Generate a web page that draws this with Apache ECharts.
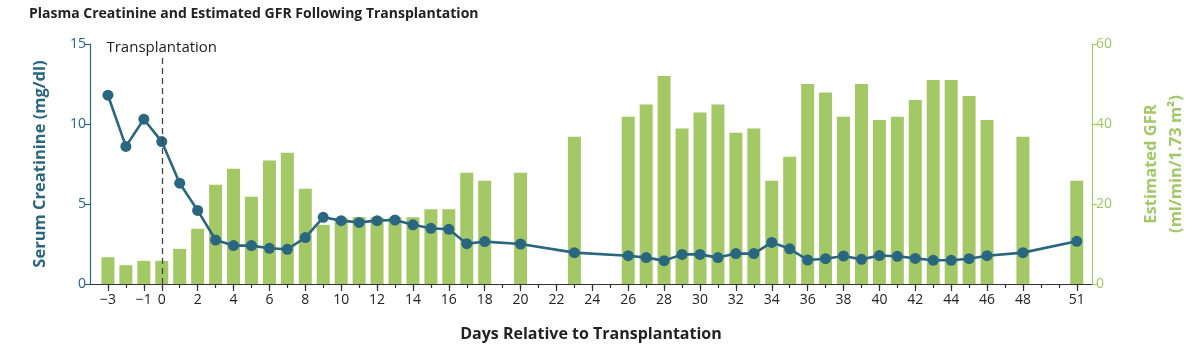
<!DOCTYPE html>
<html>
<head>
<meta charset="utf-8">
<script src="https://cdn.jsdelivr.net/npm/echarts@6/dist/echarts.min.js"></script>
<style>
	html, body {margin: 0; padding: 0; background: #fff;}
	#chart {width: 1200px; height: 353px;}
</style>
</head>
<body>
<div id="chart"></div>
<script>
// 移植后的血肌酐和估算GFR
let days = [-3, -2, -1, 0, 1, 2, 3, 4, 5, 6, 7, 8, 9, 10, 11, 12, 13, 14, 15, 16, 17, 18, 20, 23,
	26, 27, 28, 29, 30, 31, 32, 33, 34, 35, 36, 37, 38, 39, 40, 41, 42, 43, 44, 45, 46, 48, 51]
let gfr = [6.7, 4.7, 5.8, 5.8, 8.8, 13.8, 24.8, 28.8, 21.8, 30.9, 32.8, 23.8, 14.8, 16.5, 16.7, 16.7, 16.7, 16.7, 18.7, 18.7, 27.8, 25.8, 27.8, 36.8,
	41.8, 44.9, 52, 38.9, 42.9, 44.9, 37.8, 38.9, 25.8, 31.8, 50, 47.9, 41.8, 50, 41, 41.8, 46, 51, 51, 47, 41, 36.8, 25.8]
let creatinine = [11.8, 8.6, 10.3, 8.9, 6.3, 4.6, 2.75, 2.4, 2.4, 2.23, 2.17, 2.9, 4.17, 3.96, 3.85, 3.96, 4.0, 3.7, 3.48, 3.42, 2.52, 2.65, 2.5, 1.96,
	1.77, 1.65, 1.46, 1.85, 1.85, 1.65, 1.9, 1.9, 2.6, 2.2, 1.5, 1.58, 1.75, 1.54, 1.78, 1.73, 1.6, 1.48, 1.48, 1.58, 1.77, 1.96, 2.67]
let dayLabels = [-3, -1, 0, 2, 4, 6, 8, 10, 12, 14, 16, 18, 20, 22, 24, 26, 28, 30, 32, 34, 36, 38, 40, 42, 44, 46, 48, 51]
let allTicks = []
for (let d = -3; d <= 51; d++) {
	allTicks.push(d)
}

let font = "'Open Sans', sans-serif"
let teal = "#2b6681"
let green = "#a3c865"

let chart = echarts.init(document.getElementById("chart"))
chart.setOption({
	animation: false,
	textStyle: {fontFamily: font},
	title: {
		text: "Plasma Creatinine and Estimated GFR Following Transplantation",
		left: 24,
		top: 2,
		textStyle: {fontFamily: font, fontSize: 14, fontWeight: "bold", color: "#222"}
	},
	grid: {left: 90, right: 108, top: 44, bottom: 69},
	xAxis: [
		{
			type: "value",
			min: -4,
			max: 51.85,
			name: "Days Relative to Transplantation",
			nameLocation: "middle",
			nameGap: 42,
			nameTextStyle: {fontFamily: font, fontSize: 16, fontWeight: "bold", color: "#222"},
			splitLine: {show: false},
			axisLine: {lineStyle: {color: "#333", width: 1.2}},
			axisTick: {customValues: allTicks, length: 4, lineStyle: {color: "#333", width: 1.2}},
			axisLabel: {customValues: dayLabels, color: "#222", fontSize: 14, margin: 9,
				formatter: function (v) {
					return v < 0 ? "\u2212" + Math.abs(v) : String(v)
				}
			}
		},
		{
			type: "value",
			min: -4,
			max: 51.85,
			position: "bottom",
			splitLine: {show: false},
			axisLine: {show: false},
			axisTick: {customValues: dayLabels, length: 7, lineStyle: {color: "#333", width: 1.2}},
			axisLabel: {show: false}
		}
	],
	yAxis: [
		{
			type: "value",
			min: 0,
			max: 15,
			interval: 5,
			position: "left",
			name: "Serum Creatinine (mg/dl)",
			nameLocation: "middle",
			nameGap: 41,
			nameTextStyle: {fontFamily: font, fontSize: 16.5, fontWeight: "bold", color: teal},
			splitLine: {show: false},
			axisLine: {show: true, onZero: false, lineStyle: {color: teal, width: 1.2}},
			axisTick: {show: true, length: 5, lineStyle: {color: teal, width: 1.2}},
			axisLabel: {color: teal, fontSize: 14, margin: 4}
		},
		{
			type: "value",
			min: 0,
			max: 60,
			interval: 20,
			position: "right",
			name: "Estimated GFR\n(ml/min/1.73 m\u00b2)",
			nameLocation: "middle",
			nameGap: 47,
			nameTextStyle: {fontFamily: font, fontSize: 16.5, fontWeight: "bold", color: green, lineHeight: 25},
			splitLine: {show: false},
			axisLine: {show: true, onZero: false, lineStyle: {color: green, width: 1.2}},
			axisTick: {show: true, length: 5, lineStyle: {color: green, width: 1.2}},
			axisLabel: {color: green, fontSize: 14, margin: 4}
		}
	],
	series: [
		{
			name: "marker",
			type: "line",
			yAxisIndex: 0,
			data: [],
			z: 1,
			markLine: {
				silent: true,
				symbol: "none",
				lineStyle: {color: "#444", type: [6, 4], width: 1.3},
				label: {
					show: true,
					position: "end",
					formatter: "Transplantation",
					color: "#222",
					fontSize: 15,
					fontFamily: font,
					distance: 2
				},
				data: [[{coord: [0, 0]}, {coord: [0, 14.2]}]]
			}
		},
		{
			name: "Estimated GFR",
			type: "bar",
			yAxisIndex: 1,
			barWidth: 13,
			z: 2,
			itemStyle: {color: green},
			data: days.map(function (d, i) {
				return [d, gfr[i]]
			})
		},
		{
			name: "Serum Creatinine",
			type: "line",
			yAxisIndex: 0,
			z: 3,
			symbol: "circle",
			symbolSize: 11,
			lineStyle: {color: teal, width: 2.6},
			itemStyle: {color: teal},
			data: days.map(function (d, i) {
				return [d, creatinine[i]]
			})
		}
	]
})
</script>
</body>
</html>
